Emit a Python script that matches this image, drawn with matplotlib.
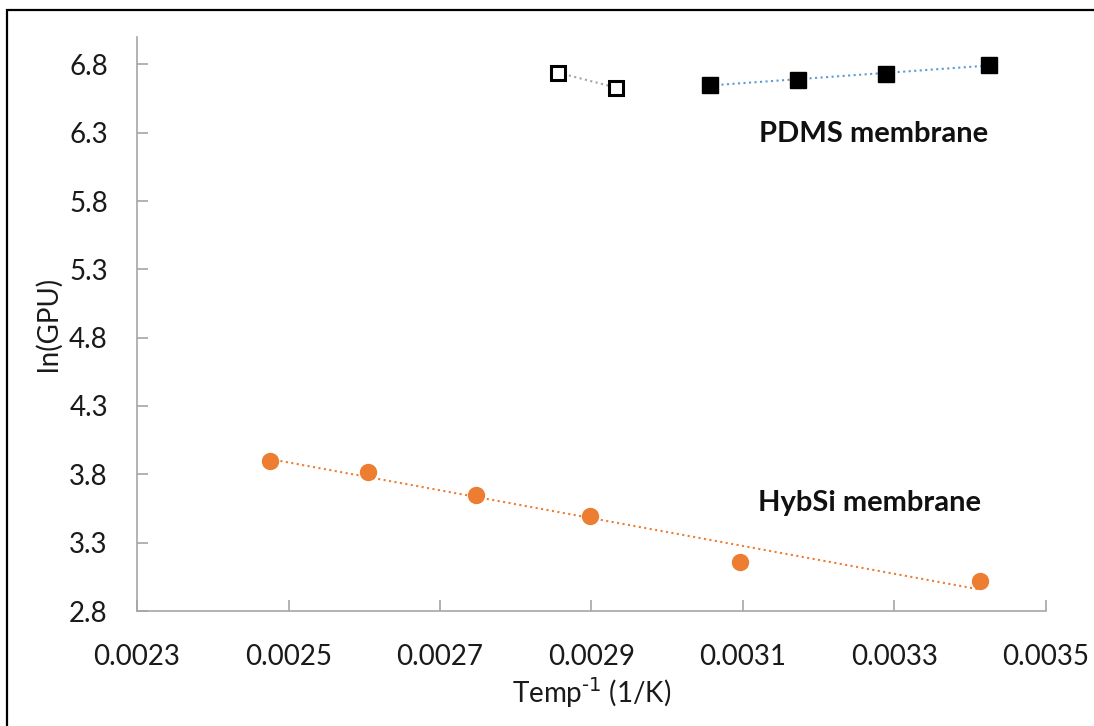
import numpy as np
import matplotlib
matplotlib.use("Agg")
import matplotlib.pyplot as plt
from matplotlib.patches import Rectangle

plt.rcParams['font.family'] = ['Lato', 'DejaVu Sans']
plt.rcParams['mathtext.default'] = 'regular'

# HybSi membrane: inverse temperature vs ln(permeance)
hybsi_x = [0.002475, 0.002605, 0.002748, 0.002898, 0.003096, 0.003413]
hybsi_y = [3.90, 3.82, 3.65, 3.495, 3.16, 3.02]

# PDMS membrane: low-temperature points (filled) and high-temperature points (open)
pdms_x = [0.003057, 0.003172, 0.003289, 0.003425]
pdms_y = [6.651, 6.687, 6.731, 6.797]
pdms_hot_x = [0.002856, 0.002933]
pdms_hot_y = [6.739, 6.629]

x_ticks = [0.0023, 0.0025, 0.0027, 0.0029, 0.0031, 0.0033, 0.0035]
y_ticks = [2.8, 3.3, 3.8, 4.3, 4.8, 5.3, 5.8, 6.3, 6.8]

W, H = 1094, 726
fig = plt.figure(figsize=(W / 100, H / 100), dpi=100)
ax = fig.add_axes([137 / W, 1 - 611 / H, (1046 - 137) / W, (611 - 37) / H])

orange = '#ED7D31'
blue = '#5B9BD5'
grey = '#A5A5A5'
ink = '#1a1a1a'

# linear trendlines
def trend(xs, ys):
    k, b = np.polyfit(xs, ys, 1)
    xx = np.array([min(xs), max(xs)])
    return xx, k * xx + b

tx, ty = trend(hybsi_x, hybsi_y)
ax.plot(tx, ty, ':', color=orange, lw=1.5, zorder=2)
tx, ty = trend(pdms_x, pdms_y)
ax.plot(tx, ty, ':', color=blue, lw=1.5, zorder=2)
ax.plot(pdms_hot_x, pdms_hot_y, ':', color=grey, lw=1.5, zorder=2)

ax.plot(hybsi_x, hybsi_y, 'o', color=orange, ms=11.5, mec=orange, zorder=3)
ax.plot(pdms_x, pdms_y, 's', color='black', ms=11, zorder=3)
ax.plot(pdms_hot_x, pdms_hot_y, 's', mfc='white', mec='black', mew=2.2, ms=10.5, zorder=3)

ax.set_xlim(0.0023, 0.0035)
ax.set_ylim(2.8, 7.0)
ax.set_xticks(x_ticks)
ax.set_xticklabels([f'{v:.4f}' for v in x_ticks])
ax.set_yticks(y_ticks)
ax.set_yticklabels([f'{v:.1f}' for v in y_ticks])

for side in ['top', 'right']:
    ax.spines[side].set_visible(False)
for side in ['left', 'bottom']:
    ax.spines[side].set_color('#A6A6A6')
    ax.spines[side].set_linewidth(1.2)

ax.tick_params(axis='both', direction='in', length=8, width=1.2, color='#A6A6A6',
               labelsize=20, labelcolor=ink)
ax.tick_params(axis='x', pad=24)
ax.tick_params(axis='y', pad=21)

ax.set_xlabel(r'Temp$^{\text{-1}}$ (1/K)', fontsize=20, color=ink, labelpad=4)
ax.set_ylabel('ln(GPU)', fontsize=20, color=ink, labelpad=5)

ax.text(0.003273, 6.29, 'PDMS membrane', fontsize=21, fontweight='bold',
        ha='center', va='center', color='#111111')
ax.text(0.003267, 3.59, 'HybSi membrane', fontsize=21, fontweight='bold',
        ha='center', va='center', color='#111111')

# outer frame
fig.patches.append(Rectangle((7 / W, -0.05), 1.2, (H - 10.5) / H + 0.05,
                             transform=fig.transFigure, fill=False,
                             edgecolor='black', lw=1.6))

fig.savefig('out.png', dpi=100)
